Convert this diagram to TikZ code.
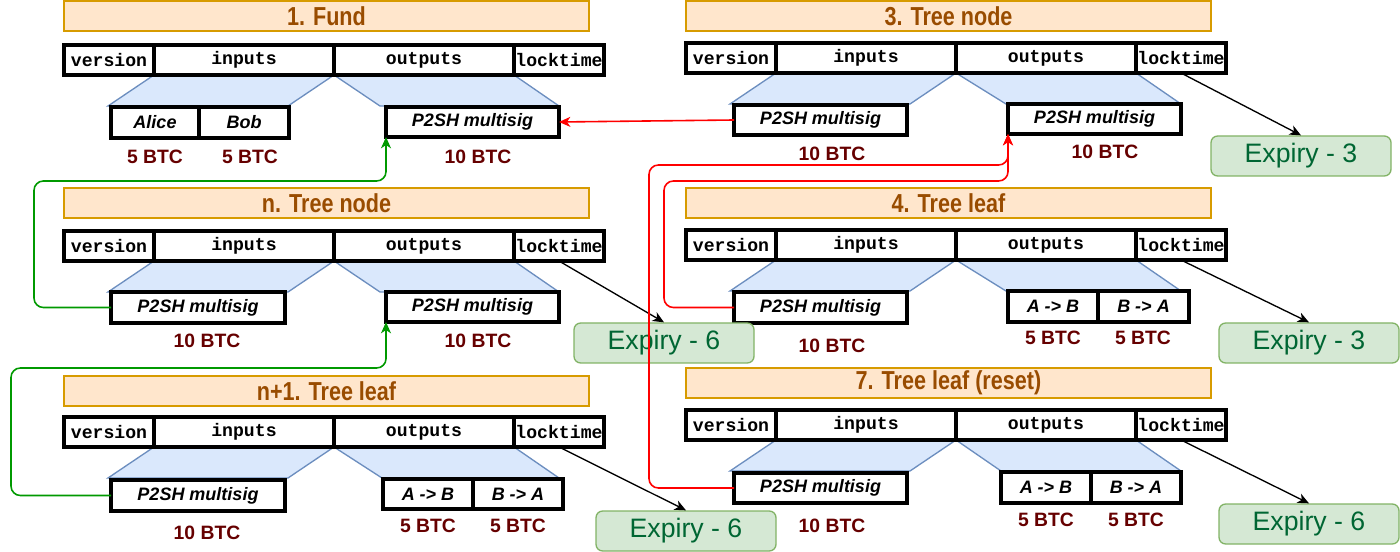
\documentclass[tikz,border=0pt]{standalone}
\usepackage{fontspec}
\setmainfont{Liberation Sans}
\setmonofont{Liberation Mono}
\newfontfamily\titlefont[FakeStretch=0.83]{Liberation Sans}
\usetikzlibrary{arrows.meta}
\definecolor{titlefill}{HTML}{FFE6CC}
\definecolor{titledraw}{HTML}{D79B00}
\definecolor{titletext}{HTML}{994C00}
\definecolor{trapfill}{HTML}{DAE8FC}
\definecolor{trapdraw}{HTML}{6C8EBF}
\definecolor{btctext}{HTML}{660000}
\definecolor{expfill}{HTML}{D5E8D4}
\definecolor{expdraw}{HTML}{82B366}
\definecolor{exptext}{HTML}{006633}
\definecolor{greenline}{HTML}{009900}
\definecolor{redline}{HTML}{FF0000}
\newcommand\bx[7]{\node[#1, minimum width={((#5)-(#3))*0.75pt}, minimum height={((#6)-(#4))*0.75pt}] (#2) at ({((#3)+(#5))/2},{((#4)+(#6))/2}) {#7};}
\newcommand\txrow[3]{%
\bx{cell}{#1v}{#2}{#3}{#2+90}{#3+30}{version}
\bx{cell}{#1i}{#2+90}{#3}{#2+270}{#3+30}{inputs}
\bx{cell}{#1o}{#2+270}{#3}{#2+450}{#3+30}{outputs}
\bx{cell}{#1l}{#2+450}{#3}{#2+540}{#3+30}{locktime}}
\newcommand\traps[3]{%
\filldraw[trap] (#1+90,#2) -- (#1+270,#2) -- (#1+224,#2+31) -- (#1+44,#2+31) -- cycle;
\filldraw[trap] (#1+270,#2) -- (#1+450,#2) -- (#1+495,#2+31) -- (#1+#3,#2+31) -- cycle;}
\tikzset{
  cell/.style={draw, line width=2.4pt, fill=white, inner sep=0pt, outer sep=0pt, font=\ttfamily\bfseries\fontsize{13.6}{16}\selectfont},
  inbox/.style={draw, line width=2.4pt, fill=white, inner sep=0pt, outer sep=0pt, font=\bfseries\itshape\fontsize{13.5}{16}\selectfont},
  titlebox/.style={draw=titledraw, fill=titlefill, line width=1pt, inner sep=0pt, text=titletext, font=\titlefont\bfseries\fontsize{19.5}{22}\selectfont},
  btc/.style={text=btctext, inner sep=0pt, font=\bfseries\fontsize{14.5}{17}\selectfont},
  expiry/.style={draw=expdraw, fill=expfill, rounded corners=5pt, line width=1pt, inner sep=0pt, text=exptext, font=\fontsize{20}{24}\selectfont},
  trap/.style={fill=trapfill, draw=trapdraw, line width=1pt, line join=miter},
  tip/.style={-{Stealth[length=8.5pt,width=7.5pt,inset=2.5pt]}},
  garr/.style={tip, draw=greenline, line width=1.2pt, rounded corners=7pt},
  rarr/.style={tip, draw=redline, line width=1.2pt, rounded corners=7pt},
  karr/.style={tip, draw=black, line width=1pt},
}
\begin{document}
\begin{tikzpicture}[x=0.75pt,y=-0.75pt]
\useasboundingbox (0,0) rectangle (1400,552);
% ---------- titles
\bx{titlebox}{fT}{64}{1}{589}{31}{1. Fund}
\bx{titlebox}{tT}{686}{1}{1211}{31}{3. Tree node}
\bx{titlebox}{nT}{64}{188}{589}{218}{n. Tree node}
\bx{titlebox}{lT}{686}{188}{1211}{218}{4. Tree leaf}
\bx{titlebox}{mT}{64}{376}{589}{406}{n+1. Tree leaf}
\bx{titlebox}{rT}{686}{368}{1211}{398}{7. Tree leaf (reset)}
% ---------- trapezoids
\traps{64}{75}{316}
\traps{686}{73}{320}
\traps{64}{261}{316}
\traps{686}{260}{320}
\traps{64}{447}{318}
\traps{686}{440}{315}
% ---------- rows
\txrow{f}{64}{45}
\txrow{t}{686}{43}
\txrow{n}{64}{231}
\txrow{l}{686}{230}
\txrow{m}{64}{417}
\txrow{r}{686}{410}
% ---------- inputs / outputs
\bx{inbox}{fA}{111}{107}{199}{138}{Alice}
\bx{inbox}{fB}{199}{107}{289}{138}{Bob}
\bx{inbox}{fP}{386}{107}{559}{137}{P2SH multisig}
\bx{inbox}{tL}{734}{105}{907}{135}{P2SH multisig}
\bx{inbox}{tR}{1008}{104}{1181}{134}{P2SH multisig}
\bx{inbox}{nL}{111}{292}{285}{323}{P2SH multisig}
\bx{inbox}{nR}{386}{292}{559}{322}{P2SH multisig}
\bx{inbox}{lL}{734}{292}{907}{323}{P2SH multisig}
\bx{inbox}{lAB}{1008}{291}{1098}{322}{A -> B}
\bx{inbox}{lBA}{1098}{291}{1189}{322}{B -> A}
\bx{inbox}{mL}{111}{480}{285}{511}{P2SH multisig}
\bx{inbox}{mAB}{383}{479}{473}{509}{A -> B}
\bx{inbox}{mBA}{473}{479}{563}{509}{B -> A}
\bx{inbox}{rL}{734}{473}{907}{503}{P2SH multisig}
\bx{inbox}{rAB}{1001}{472}{1091}{503}{A -> B}
\bx{inbox}{rBA}{1091}{472}{1181}{503}{B -> A}
% ---------- amounts
\node[btc] (fA5) at (155,157) {5 BTC};
\node[btc] (fB5) at (250,157) {5 BTC};
\node[btc] (fP10) at (478,157) {10 BTC};
\node[btc] (tL10) at (832,154) {10 BTC};
\node[btc] (tR10) at (1105,152) {10 BTC};
\node[btc] (nL10) at (207,341) {10 BTC};
\node[btc] (nR10) at (478,341) {10 BTC};
\node[btc] (lL10) at (832,346) {10 BTC};
\node[btc] (lAB5) at (1053,338) {5 BTC};
\node[btc] (lBA5) at (1143,338) {5 BTC};
\node[btc] (mL10) at (207,533) {10 BTC};
\node[btc] (mAB5) at (428,526) {5 BTC};
\node[btc] (mBA5) at (518,526) {5 BTC};
\node[btc] (rL10) at (832,526) {10 BTC};
\node[btc] (rAB5) at (1046,520) {5 BTC};
\node[btc] (rBA5) at (1136,520) {5 BTC};
% ---------- expiry boxes
\bx{expiry}{tE}{1211}{136}{1391}{176}{Expiry - 3}
\bx{expiry}{nE}{574}{323}{754}{363}{Expiry - 6}
\bx{expiry}{lE}{1219}{323}{1399}{363}{Expiry - 3}
\bx{expiry}{mE}{596}{511}{776}{551}{Expiry - 6}
\bx{expiry}{rE}{1219}{504}{1399}{544}{Expiry - 6}
% ---------- locktime arrows
\draw[karr] (tl.south) -- (tE.north);
\draw[karr] (nl.south) -- (nE.north);
\draw[karr] (ll.south) -- (lE.north);
\draw[karr] (ml.south) -- (mE.north);
\draw[karr] (rl.south) -- (rE.north);
% ---------- spending arrows
\draw[rarr] (tL.west) -- (fP.east);
\draw[garr] (nL.west) -| (34,181) -| (fP.south west);
\draw[garr] (mL.west) -| (11,368) -| (nR.south west);
\draw[rarr] (lL.west) -| (664,181) -| (tR.south west);
\draw[rarr] (rL.west) -| (649,165) -| (tR.south west);
\end{tikzpicture}
\end{document}
